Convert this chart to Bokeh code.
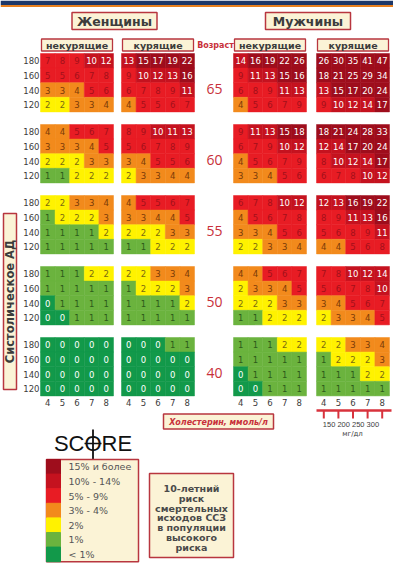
from bokeh.plotting import figure
from bokeh.models import Range1d, ColumnDataSource
from bokeh.core.properties import value
from bokeh.embed import file_html
from bokeh.resources import INLINE

# ---------------- data ----------------
chol = [4, 5, 6, 7, 8]
sbp = [180, 160, 140, 120]
ages = [65, 60, 55, 50, 40]
groups = ["women_nonsmoker", "women_smoker", "men_nonsmoker", "men_smoker"]
group_titles = ["некурящие", "курящие", "некурящие", "курящие"]
mgdl = [150, 200, 250, 300]

# rows: SBP 180, 160, 140, 120 ; columns: cholesterol 4..8
w_ns_65 = [[7, 8, 9, 10, 12], [5, 5, 6, 7, 8], [3, 3, 4, 5, 6], [2, 2, 3, 3, 4]]
w_s_65 = [[13, 15, 17, 19, 22], [9, 10, 12, 13, 16], [6, 7, 8, 9, 11], [4, 5, 5, 6, 7]]
m_ns_65 = [[14, 16, 19, 22, 26], [9, 11, 13, 15, 16], [6, 8, 9, 11, 13], [4, 5, 6, 7, 9]]
m_s_65 = [[26, 30, 35, 41, 47], [18, 21, 25, 29, 34], [13, 15, 17, 20, 24], [9, 10, 12, 14, 17]]

w_ns_60 = [[4, 4, 5, 6, 7], [3, 3, 3, 4, 5], [2, 2, 2, 3, 3], [1, 1, 2, 2, 2]]
w_s_60 = [[8, 9, 10, 11, 13], [5, 6, 7, 8, 9], [3, 4, 5, 5, 6], [2, 3, 3, 4, 4]]
m_ns_60 = [[9, 11, 13, 15, 18], [6, 7, 9, 10, 12], [4, 5, 6, 7, 9], [3, 3, 4, 5, 6]]
m_s_60 = [[18, 21, 24, 28, 33], [12, 14, 17, 20, 24], [8, 10, 12, 14, 17], [6, 7, 8, 10, 12]]

w_ns_55 = [[2, 2, 3, 3, 4], [1, 2, 2, 2, 3], [1, 1, 1, 1, 2], [1, 1, 1, 1, 1]]
w_s_55 = [[4, 5, 5, 6, 7], [3, 3, 4, 4, 5], [2, 2, 2, 3, 3], [1, 1, 2, 2, 2]]
m_ns_55 = [[6, 7, 8, 10, 12], [4, 5, 6, 7, 8], [3, 3, 4, 5, 6], [2, 2, 3, 3, 4]]
m_s_55 = [[12, 13, 16, 19, 22], [8, 9, 11, 13, 16], [5, 6, 8, 9, 11], [4, 4, 5, 6, 8]]

w_ns_50 = [[1, 1, 1, 2, 2], [1, 1, 1, 1, 1], [0, 1, 1, 1, 1], [0, 0, 1, 1, 1]]
w_s_50 = [[2, 2, 3, 3, 4], [1, 2, 2, 2, 3], [1, 1, 1, 1, 2], [1, 1, 1, 1, 1]]
m_ns_50 = [[4, 4, 5, 6, 7], [2, 3, 3, 4, 5], [2, 2, 2, 3, 3], [1, 1, 2, 2, 2]]
m_s_50 = [[7, 8, 10, 12, 14], [5, 6, 7, 8, 10], [3, 4, 5, 6, 7], [2, 3, 3, 4, 5]]

w_ns_40 = [[0, 0, 0, 0, 0], [0, 0, 0, 0, 0], [0, 0, 0, 0, 0], [0, 0, 0, 0, 0]]
w_s_40 = [[0, 0, 0, 1, 1], [0, 0, 0, 0, 0], [0, 0, 0, 0, 0], [0, 0, 0, 0, 0]]
m_ns_40 = [[1, 1, 1, 2, 2], [1, 1, 1, 1, 1], [0, 1, 1, 1, 1], [0, 0, 1, 1, 1]]
m_s_40 = [[2, 2, 3, 3, 4], [1, 2, 2, 2, 3], [1, 1, 1, 2, 2], [1, 1, 1, 1, 1]]

legend_labels = ["15% и более", "10% - 14%", "5% - 9%", "3% - 4%", "2%", "1%", "< 1%"]
legend_levels = [15, 10, 5, 3, 2, 1, 0]
info_lines = ["10-летний", "риск", "смертельных", "исходов ССЗ", "в популяции", "высокого", "риска"]

tables = {
    65: [w_ns_65, w_s_65, m_ns_65, m_s_65],
    60: [w_ns_60, w_s_60, m_ns_60, m_s_60],
    55: [w_ns_55, w_s_55, m_ns_55, m_s_55],
    50: [w_ns_50, w_s_50, m_ns_50, m_s_50],
    40: [w_ns_40, w_s_40, m_ns_40, m_s_40],
}

# ---------------- styling ----------------
def fill_for(v):
    if v >= 15: return "#9e0d1c"
    if v >= 10: return "#c5121f"
    if v >= 5: return "#e81c24"
    if v >= 3: return "#f28a1c"
    if v == 2: return "#fff200"
    if v == 1: return "#6bb33e"
    return "#12994a"

def text_for(v):
    if v >= 10: return "#ffffff"
    if v >= 5: return "#a3101a"
    if v >= 3: return "#7a3a08"
    if v == 2: return "#7a6a10"
    if v == 1: return "#2d5a1a"
    return "#ffffff"

FONT = value("DejaVu Sans")
DARK = "#3c3c3c"
RED = "#c8303a"
CREAM = "#fbf3d6"
BORDER = "#b8363f"

GX = [40, 121, 233, 316]   # left edge of each group's grid
TOP0, BLOCK = 53, 71.0
CW, CH = 14.6, 14.6

p = figure(width=393, height=567, output_backend="svg", toolbar_location=None,
           x_range=Range1d(0, 393), y_range=Range1d(567, 0), min_border=0)
p.axis.visible = False
p.grid.visible = False
p.outline_line_color = None
p.background_fill_color = "white"

# top banner strip
p.quad(left=[0], right=[393], top=[0], bottom=[4.5], fill_color="#1d3768", line_color=None)
p.quad(left=[0], right=[393], top=[4.5], bottom=[6.5], fill_color="#e8801e", line_color=None)

# ---------------- cells ----------------
xs, ys, fills, txts, tcols = [], [], [], [], []
for ai, age in enumerate(ages):
    top = TOP0 + ai * BLOCK
    for gi, g in enumerate(groups):
        tab = tables[age][gi]
        for ri, s in enumerate(sbp):
            for ci, c in enumerate(chol):
                v = tab[ri][ci]
                xs.append(GX[gi] + (ci + 0.5) * CW)
                ys.append(top + (ri + 0.5) * CH)
                fills.append(fill_for(v))
                txts.append(str(v))
                tcols.append(text_for(v))
src = ColumnDataSource(dict(x=xs, y=ys, fill=fills, txt=txts, tcol=tcols))
p.rect(x="x", y="y", width=CW, height=CH, fill_color="fill", line_color="fill",
       line_width=0.5, source=src)
p.text(x="x", y="y", text="txt", text_color="tcol", text_align="center",
       text_baseline="middle", text_font=FONT, text_font_size="8.5px", source=src)

# SBP labels
sx, sy, st = [], [], []
for ai, age in enumerate(ages):
    top = TOP0 + ai * BLOCK
    for ri, s in enumerate(sbp):
        sx.append(GX[0] - 1)
        sy.append(top + (ri + 0.5) * CH)
        st.append(str(s))
p.text(x=sx, y=sy, text=st, text_align="right", text_baseline="middle",
       text_font=FONT, text_font_size="8.5px", text_color=DARK)

# Age labels
p.text(x=[214] * len(ages), y=[TOP0 + ai * BLOCK + 2.4 * CH for ai in range(len(ages))],
       text=[str(a) for a in ages], text_align="center", text_baseline="middle",
       text_font=value("Open Sans"), text_font_size="14px", text_color=RED)

# Cholesterol labels below last block
bottom = TOP0 + (len(ages) - 1) * BLOCK + 4 * CH
cx, cy, ct = [], [], []
for gi in range(4):
    for ci, c in enumerate(chol):
        cx.append(GX[gi] + (ci + 0.5) * CW)
        cy.append(bottom + 7)
        ct.append(str(c))
p.text(x=cx, y=cy, text=ct, text_align="center", text_baseline="middle",
       text_font=FONT, text_font_size="8.5px", text_color=DARK)

# ---------------- header boxes ----------------
def box(cx_, cy_, w, h, lw=1.5):
    p.rect(x=[cx_], y=[cy_], width=w, height=h, fill_color=CREAM,
           line_color=BORDER, line_width=lw)

box(114, 20.5, 85, 17)
p.text(x=[114], y=[21], text=["Женщины"], text_align="center", text_baseline="middle",
       text_font=FONT, text_font_style="bold", text_font_size="12.5px", text_color=DARK)
box(307.5, 20.5, 85, 17)
p.text(x=[307.5], y=[21], text=["Мужчины"], text_align="center", text_baseline="middle",
       text_font=FONT, text_font_style="bold", text_font_size="12.5px", text_color=DARK)

for gi, t in enumerate(group_titles):
    gxc = GX[gi] + 2.5 * CW
    box(gxc, 44.5, 5 * CW - 2, 12, 1.3)
    p.text(x=[gxc], y=[45], text=[t], text_align="center", text_baseline="middle",
           text_font=FONT, text_font_style="bold", text_font_size="9.5px", text_color=DARK)

p.text(x=[215], y=[45], text=["Возраст"], text_align="center", text_baseline="middle",
       text_font=FONT, text_font_style="bold", text_font_size="8px", text_color=RED)

# vertical SBP title
box(9.5, 301, 13, 176, 1.5)
p.text(x=[9.5], y=[301], text=["Систолическое АД"], angle=1.5708, text_align="center",
       text_baseline="middle", text_font=FONT, text_font_style="bold",
       text_font_size="11.5px", text_color=DARK)

# cholesterol title
box(218, 421, 110, 15, 1.5)
p.text(x=[218], y=[421.5], text=["Холестерин, ммоль/л"], text_align="center",
       text_baseline="middle", text_font=FONT, text_font_style="bold italic",
       text_font_size="8px", text_color=RED)

# mg/dl ruler
rx0 = GX[3]
p.segment(x0=[rx0], y0=[410], x1=[rx0 + 5 * CW + 2], y1=[410], line_color="#d8323c", line_width=2.5)
tx = [GX[3] + (ci + 0.5) * CW for ci in range(len(chol))]
p.segment(x0=tx, y0=[410] * len(tx), x1=tx, y1=[418] * len(tx), line_color="#d8323c", line_width=2)
p.text(x=[GX[3] + (ci + 0.5) * CW - 1 for ci in range(len(mgdl))], y=[424] * len(mgdl),
       text=[str(m) for m in mgdl], text_align="left", text_baseline="middle",
       text_font=value("Liberation Sans"), text_font_size="7.5px", text_color=DARK)
p.text(x=[352], y=[433], text=["мг/дл"], text_align="center", text_baseline="middle",
       text_font=FONT, text_font_size="7px", text_color=DARK)

# ---------------- SCORE logo ----------------
p.text(x=[92.5], y=[443], text=["SCORE"], text_align="center", text_baseline="middle",
       text_font=value("Liberation Sans"), text_font_size="22px", text_color="#111111")
p.segment(x0=[92.5], y0=[429], x1=[92.5], y1=[459], line_color="#111111", line_width=1.8)
p.segment(x0=[84], y0=[443], x1=[101], y1=[443], line_color="#111111", line_width=1.5)

# ---------------- legend ----------------
LX0, LY0, LH = 46, 459, 14.6
p.rect(x=[92], y=[LY0 + 3.5 * LH], width=92, height=7 * LH, fill_color=CREAM,
       line_color=BORDER, line_width=1.5)
p.rect(x=[LX0 + 7] * 7, y=[LY0 + (i + 0.5) * LH for i in range(7)], width=14, height=LH,
       fill_color=[fill_for(v) for v in legend_levels],
       line_color=[fill_for(v) for v in legend_levels])
p.text(x=[68] * 7, y=[LY0 + (i + 0.5) * LH for i in range(7)], text=legend_labels,
       text_align="left", text_baseline="middle", text_font=FONT,
       text_font_size="9.5px", text_color="#555555")

# info box
box(191, 515, 84, 84, 1.5)
p.text(x=[191] * len(info_lines), y=[488 + i * 9.8 for i in range(len(info_lines))],
       text=info_lines, text_align="center", text_baseline="middle", text_font=FONT,
       text_font_style="bold", text_font_size="9.5px", text_color="#4a4a4a")

open("out.html", "w").write(file_html(p, INLINE))
